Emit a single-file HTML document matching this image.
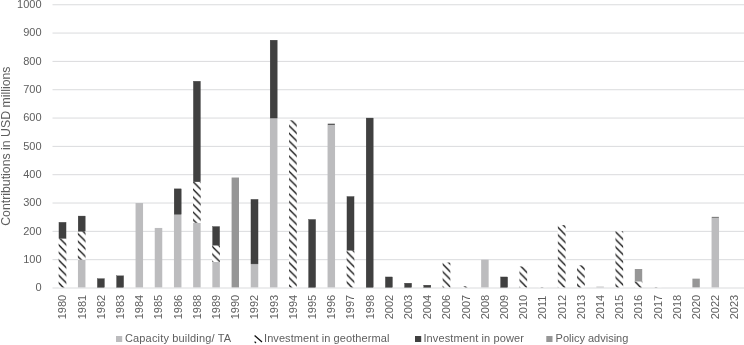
<!DOCTYPE html>
<html><head><meta charset="utf-8"><title>Contributions chart</title>
<style>
html,body{margin:0;padding:0;background:#fff;}
body{width:744px;height:345px;overflow:hidden;}
svg{display:block;}
text{font-family:"Liberation Sans",sans-serif;font-size:11px;fill:#5e5e5e;}
</style></head><body>
<svg width="744" height="345" viewBox="0 0 744 345">
<defs>
<pattern id="h" patternUnits="userSpaceOnUse" width="7.6" height="7.6" x="0" y="3.85">
<rect width="7.6" height="7.6" fill="#fff"/>
<path d="M-1,-1 L8.6,8.6 M-1,6.6 L1,8.6 M6.6,-1 L8.6,1" stroke="#000" stroke-width="1.2" fill="none"/>
</pattern>
</defs>
<rect width="744" height="345" fill="#fff"/>

<g stroke="#dadbdd" stroke-width="1">
<line x1="52.5" x2="744" y1="288.00" y2="288.00"/>
<line x1="52.5" x2="744" y1="259.68" y2="259.68"/>
<line x1="52.5" x2="744" y1="231.35" y2="231.35"/>
<line x1="52.5" x2="744" y1="203.03" y2="203.03"/>
<line x1="52.5" x2="744" y1="174.70" y2="174.70"/>
<line x1="52.5" x2="744" y1="146.38" y2="146.38"/>
<line x1="52.5" x2="744" y1="118.05" y2="118.05"/>
<line x1="52.5" x2="744" y1="89.72" y2="89.72"/>
<line x1="52.5" x2="744" y1="61.40" y2="61.40"/>
<line x1="52.5" x2="744" y1="33.07" y2="33.07"/>
<line x1="52.5" x2="744" y1="4.75" y2="4.75"/>
</g>
<g text-anchor="end">
<text x="41.6" y="291.40">0</text>
<text x="41.6" y="263.07">100</text>
<text x="41.6" y="234.75">200</text>
<text x="41.6" y="206.43">300</text>
<text x="41.6" y="178.10">400</text>
<text x="41.6" y="149.78">500</text>
<text x="41.6" y="121.45">600</text>
<text x="41.6" y="93.12">700</text>
<text x="41.6" y="64.80">800</text>
<text x="41.6" y="36.47">900</text>
<text x="41.6" y="8.15">1000</text>
</g>
<rect x="58.65" y="238.43" width="7.7" height="48.97" fill="url(#h)"/>
<rect x="58.95" y="222.29" width="7.1" height="16.15" fill="#404040" stroke="#383838" stroke-width="0.3"/>
<rect x="77.95" y="259.68" width="7.5" height="27.72" fill="#bcbcbe"/>
<rect x="77.85" y="231.35" width="7.7" height="28.32" fill="url(#h)"/>
<rect x="78.15" y="216.05" width="7.1" height="15.30" fill="#404040" stroke="#383838" stroke-width="0.3"/>
<rect x="97.35" y="278.65" width="7.1" height="8.75" fill="#404040" stroke="#383838" stroke-width="0.3"/>
<rect x="116.55" y="275.82" width="7.1" height="11.58" fill="#404040" stroke="#383838" stroke-width="0.3"/>
<rect x="135.55" y="203.03" width="7.5" height="84.38" fill="#bcbcbe"/>
<rect x="154.75" y="227.95" width="7.5" height="59.45" fill="#bcbcbe"/>
<rect x="173.95" y="214.36" width="7.5" height="73.05" fill="#bcbcbe"/>
<rect x="174.15" y="188.86" width="7.1" height="25.49" fill="#404040" stroke="#383838" stroke-width="0.3"/>
<rect x="193.15" y="222.85" width="7.5" height="64.55" fill="#bcbcbe"/>
<rect x="193.05" y="181.78" width="7.7" height="41.07" fill="url(#h)"/>
<rect x="193.35" y="81.23" width="7.1" height="100.55" fill="#404040" stroke="#383838" stroke-width="0.3"/>
<rect x="212.35" y="261.94" width="7.5" height="25.46" fill="#bcbcbe"/>
<rect x="212.25" y="245.23" width="7.7" height="16.71" fill="url(#h)"/>
<rect x="212.55" y="226.53" width="7.1" height="18.69" fill="#404040" stroke="#383838" stroke-width="0.3"/>
<rect x="231.60" y="177.53" width="7.4" height="109.87" fill="#969696"/>
<rect x="250.75" y="263.92" width="7.5" height="23.48" fill="#bcbcbe"/>
<rect x="250.95" y="199.34" width="7.1" height="64.58" fill="#404040" stroke="#383838" stroke-width="0.3"/>
<rect x="269.95" y="118.05" width="7.5" height="169.35" fill="#bcbcbe"/>
<rect x="270.15" y="40.16" width="7.1" height="77.89" fill="#404040" stroke="#383838" stroke-width="0.3"/>
<rect x="289.05" y="120.32" width="7.7" height="167.08" fill="url(#h)"/>
<rect x="308.55" y="219.45" width="7.1" height="67.95" fill="#404040" stroke="#383838" stroke-width="0.3"/>
<rect x="327.55" y="124.85" width="7.5" height="162.55" fill="#bcbcbe"/>
<rect x="327.75" y="123.72" width="7.1" height="1.13" fill="#404040"/>
<rect x="346.65" y="250.33" width="7.7" height="37.07" fill="url(#h)"/>
<rect x="346.95" y="196.51" width="7.1" height="53.82" fill="#404040" stroke="#383838" stroke-width="0.3"/>
<rect x="366.15" y="118.05" width="7.1" height="169.35" fill="#404040" stroke="#383838" stroke-width="0.3"/>
<rect x="385.35" y="276.95" width="7.1" height="10.45" fill="#404040" stroke="#383838" stroke-width="0.3"/>
<rect x="404.55" y="283.18" width="7.1" height="4.22" fill="#404040" stroke="#383838" stroke-width="0.3"/>
<rect x="423.75" y="285.17" width="7.1" height="2.23" fill="#404040" stroke="#383838" stroke-width="0.3"/>
<rect x="442.65" y="262.51" width="7.7" height="24.89" fill="url(#h)"/>
<rect x="461.85" y="286.30" width="7.7" height="1.10" fill="url(#h)"/>
<rect x="481.15" y="259.68" width="7.5" height="27.72" fill="#bcbcbe"/>
<rect x="500.55" y="276.95" width="7.1" height="10.45" fill="#404040" stroke="#383838" stroke-width="0.3"/>
<rect x="519.45" y="266.47" width="7.7" height="20.93" fill="url(#h)"/>
<rect x="538.65" y="287.15" width="7.7" height="0.25" fill="url(#h)"/>
<rect x="557.85" y="225.12" width="7.7" height="62.28" fill="url(#h)"/>
<rect x="577.05" y="265.34" width="7.7" height="22.06" fill="url(#h)"/>
<rect x="596.35" y="286.58" width="7.5" height="0.82" fill="#bcbcbe"/>
<rect x="615.45" y="231.35" width="7.7" height="56.05" fill="url(#h)"/>
<rect x="634.65" y="281.49" width="7.7" height="5.91" fill="url(#h)"/>
<rect x="634.80" y="269.02" width="7.4" height="12.46" fill="#969696"/>
<rect x="653.85" y="287.15" width="7.7" height="0.25" fill="url(#h)"/>
<rect x="692.40" y="278.65" width="7.4" height="8.75" fill="#969696"/>
<rect x="711.55" y="217.61" width="7.5" height="69.79" fill="#bcbcbe"/>
<rect x="711.75" y="216.90" width="7.1" height="0.71" fill="#404040"/>
<rect x="730.75" y="287.43" width="7.5" height="-0.03" fill="#bcbcbe"/>
<text transform="translate(66.30,319.3) rotate(-90)">1980</text>
<text transform="translate(85.50,319.3) rotate(-90)">1981</text>
<text transform="translate(104.70,319.3) rotate(-90)">1982</text>
<text transform="translate(123.90,319.3) rotate(-90)">1983</text>
<text transform="translate(143.10,319.3) rotate(-90)">1984</text>
<text transform="translate(162.30,319.3) rotate(-90)">1985</text>
<text transform="translate(181.50,319.3) rotate(-90)">1986</text>
<text transform="translate(200.70,319.3) rotate(-90)">1988</text>
<text transform="translate(219.90,319.3) rotate(-90)">1989</text>
<text transform="translate(239.10,319.3) rotate(-90)">1990</text>
<text transform="translate(258.30,319.3) rotate(-90)">1992</text>
<text transform="translate(277.50,319.3) rotate(-90)">1993</text>
<text transform="translate(296.70,319.3) rotate(-90)">1994</text>
<text transform="translate(315.90,319.3) rotate(-90)">1995</text>
<text transform="translate(335.10,319.3) rotate(-90)">1996</text>
<text transform="translate(354.30,319.3) rotate(-90)">1997</text>
<text transform="translate(373.50,319.3) rotate(-90)">1998</text>
<text transform="translate(392.70,319.3) rotate(-90)">2002</text>
<text transform="translate(411.90,319.3) rotate(-90)">2003</text>
<text transform="translate(431.10,319.3) rotate(-90)">2004</text>
<text transform="translate(450.30,319.3) rotate(-90)">2006</text>
<text transform="translate(469.50,319.3) rotate(-90)">2007</text>
<text transform="translate(488.70,319.3) rotate(-90)">2008</text>
<text transform="translate(507.90,319.3) rotate(-90)">2009</text>
<text transform="translate(527.10,319.3) rotate(-90)">2010</text>
<text transform="translate(546.30,319.3) rotate(-90)">2011</text>
<text transform="translate(565.50,319.3) rotate(-90)">2012</text>
<text transform="translate(584.70,319.3) rotate(-90)">2013</text>
<text transform="translate(603.90,319.3) rotate(-90)">2014</text>
<text transform="translate(623.10,319.3) rotate(-90)">2015</text>
<text transform="translate(642.30,319.3) rotate(-90)">2016</text>
<text transform="translate(661.50,319.3) rotate(-90)">2017</text>
<text transform="translate(680.70,319.3) rotate(-90)">2018</text>
<text transform="translate(699.90,319.3) rotate(-90)">2020</text>
<text transform="translate(719.10,319.3) rotate(-90)">2022</text>
<text transform="translate(738.30,319.3) rotate(-90)">2023</text>
<text transform="translate(9.8,225.8) rotate(-90)" style="font-size:12.3px" textLength="159.3">Contributions in USD millions</text>
<rect x="116" y="336" width="6.2" height="6" fill="#bcbcbe"/>
<text x="124.9" y="342" textLength="106.3">Capacity building/ TA</text>
<g><rect x="254.5" y="336" width="7" height="6.5" fill="#fff"/><path d="M254.6,335.6 L262,342 M254.6,341.6 L256,343" stroke="#111" stroke-width="1.3" fill="none"/></g>
<text x="264" y="342" textLength="125.4">Investment in geothermal</text>
<rect x="415" y="336" width="6.2" height="6" fill="#404040"/>
<text x="423.4" y="342" textLength="100.5">Investment in power</text>
<rect x="546.3" y="336" width="6.2" height="6" fill="#969696"/>
<text x="555.6" y="342">Policy advising</text>
</svg></body></html>
